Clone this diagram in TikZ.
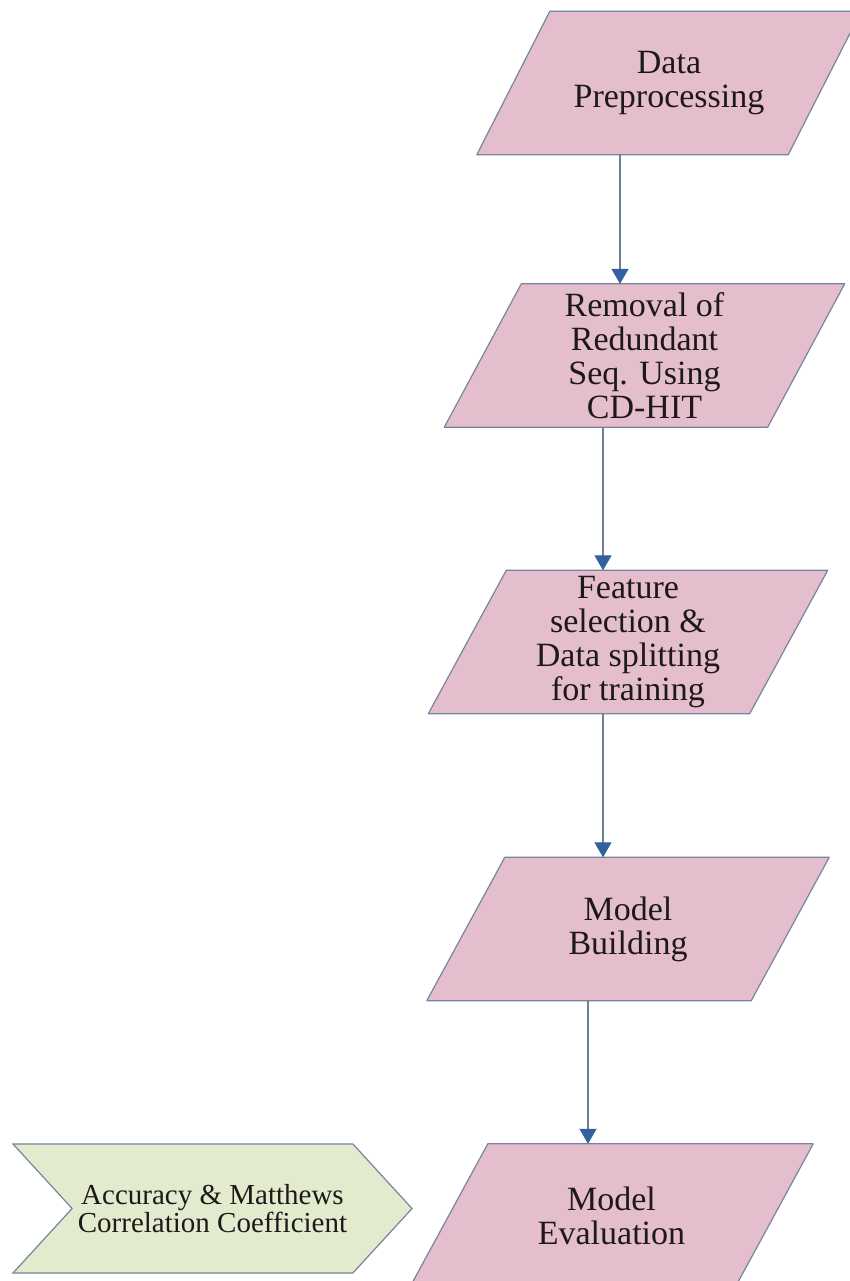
\documentclass[tikz,border=0pt]{standalone}
\usepackage{fontspec}
\setmainfont{Liberation Serif}
\usepackage{tikz}
\usetikzlibrary{arrows.meta, shapes.symbols, backgrounds}

\definecolor{stepfill}{RGB}{229,190,205}
\definecolor{stepdraw}{RGB}{120,132,158}
\definecolor{metricfill}{RGB}{226,235,206}
\definecolor{tipblue}{RGB}{52,96,160}
\definecolor{flowline}{RGB}{112,126,150}
\definecolor{inktext}{RGB}{30,25,25}

\begin{document}
\begin{tikzpicture}[
  x=1pt, y=-1pt,
  steptext/.style={
    minimum height=143pt,
    inner sep=0pt,
    align=center,
    text=inktext,
    font=\fontsize{34}{34}\selectfont
  },
  stepshape/.style={
    draw=stepdraw,
    fill=stepfill,
    line width=1.2pt,
    line join=round
  },
  chevron/.style={
    signal,
    signal to=east,
    signal from=west,
    signal pointer angle=95,
    draw=stepdraw,
    fill=metricfill,
    line width=1.2pt,
    minimum width=399pt,
    minimum height=129pt,
    inner sep=0pt,
    align=center,
    text=inktext,
    font=\fontsize{29}{28}\selectfont
  },
  flow/.style={
    draw=flowline,
    line width=1.3pt,
    -{Triangle[width=17pt,length=15pt,color=tipblue]}
  }
]

% page
\useasboundingbox (0,0) rectangle (850,1281);

% -------------------------------------------------------------------
% pipeline steps
% -------------------------------------------------------------------
\node[steptext, minimum width=311pt] (prep) at (669,83)
{Data\\Preprocessing};

\node[steptext, minimum width=323pt] (cdhit) at (644.5,355.5)
{Removal of\\Redundant\\Seq. Using\\CD-HIT};

\node[steptext, minimum width=321pt] (feat) at (628,642)
{Feature\\selection \&\\Data splitting\\for training};

\node[steptext, minimum width=324pt] (build) at (628,929)
{Model\\Building};

\node[steptext, minimum width=325pt] (eval) at (611.5,1215.5)
{Model\\Evaluation};

% white page and slanted boxes behind the steps
\begin{pgfonlayer}{background}
  \fill[white] (0,0) rectangle (850,1281);
  \foreach \n/\s in {prep/73, cdhit/77, feat/78, build/78, eval/78}
    \draw[stepshape]
      ([xshift=-\s*0.5pt]\n.south west) -- ([xshift=-\s*0.5pt]\n.south east)
      -- ([xshift=\s*0.5pt]\n.north east) -- ([xshift=\s*0.5pt]\n.north west)
      -- cycle;
\end{pgfonlayer}

% metric tag
\node[chevron] (metric) at (212.5,1208.5)
{Accuracy \& Matthews\\Correlation Coefficient};

% -------------------------------------------------------------------
% connectors
% -------------------------------------------------------------------
\draw[flow] ([xshift=-49pt]prep.south) -- ([xshift=-24.5pt]cdhit.north);
\draw[flow] ([xshift=-41.5pt]cdhit.south) -- ([xshift=-25pt]feat.north);
\draw[flow] ([xshift=-25pt]feat.south) -- ([xshift=-25pt]build.north);
\draw[flow] ([xshift=-40pt]build.south) -- ([xshift=-23.5pt]eval.north);

\end{tikzpicture}
\end{document}
